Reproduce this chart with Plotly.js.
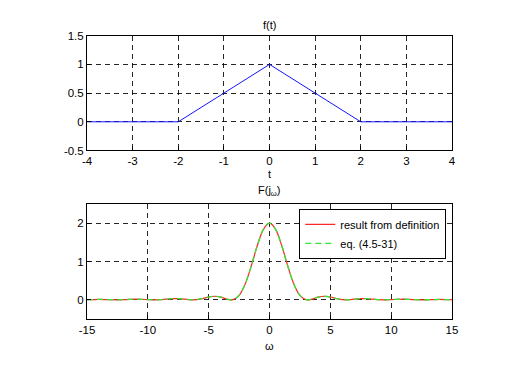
<!DOCTYPE html>
<html>
<head>
<meta charset="utf-8">
<script src="https://cdn.plot.ly/plotly-3.0.1.min.js"></script>
<style>html,body{margin:0;padding:0;background:#fff;}#chart{width:522px;height:377px;}</style>
</head>
<body>
<div id="chart"></div>
<script>
// Top subplot: f(t)
const tVals = [-4, -2, 0, 2, 4];
const fVals = [0, 0, 1, 0, 0];

// Bottom subplot: F(jw)
const omega = [-15,-14.5,-14,-13.5,-13,-12.5,-12,-11.5,-11,-10.5,-10,-9.5,-9,-8.5,-8,-7.5,-7,-6.5,-6,-5.5,-5,-4.5,-4,-3.5,-3,-2.5,-2,-1.5,-1,-0.5,
  0,0.5,1,1.5,2,2.5,3,3.5,4,4.5,5,5.5,6,6.5,7,7.5,8,8.5,9,9.5,10,10.5,11,11.5,12,12.5,13,13.5,14,14.5,15];
const Fdef = [0.004,0.008,0.010,0.007,0.002,0.000,0.004,0.012,0.017,0.014,0.006,0.000,0.004,0.018,0.031,0.031,0.018,0.002,0.004,0.033,0.074,0.094,0.072,0.020,0.004,0.115,0.413,0.884,1.416,1.839,
  2.000,1.839,1.416,0.884,0.413,0.115,0.004,0.020,0.072,0.094,0.074,0.033,0.004,0.002,0.018,0.031,0.031,0.018,0.004,0.000,0.006,0.014,0.017,0.012,0.004,0.000,0.002,0.007,0.010,0.008,0.004];
const Feq = [0.004,0.008,0.010,0.007,0.002,0.000,0.004,0.012,0.017,0.014,0.006,0.000,0.004,0.018,0.031,0.031,0.018,0.002,0.004,0.033,0.074,0.094,0.072,0.020,0.004,0.115,0.413,0.884,1.416,1.839,
  2.000,1.839,1.416,0.884,0.413,0.115,0.004,0.020,0.072,0.094,0.074,0.033,0.004,0.002,0.018,0.031,0.031,0.018,0.004,0.000,0.006,0.014,0.017,0.012,0.004,0.000,0.002,0.007,0.010,0.008,0.004];

const topXTicks = [-4,-3,-2,-1,0,1,2,3,4];
const topYTicks = [-0.5,0,0.5,1,1.5];
const botXTicks = [-15,-10,-5,0,5,10,15];
const botYTicks = [0,1,2];

const FONT = {family: 'Liberation Sans, Arial, sans-serif', size: 11.5, color: '#000'};
const LFONT = {family: 'Liberation Sans, Arial, sans-serif', size: 11, color: '#000'};
const TFONT = {family: 'Liberation Sans, Arial, sans-serif', size: 11, color: '#000'};

function axisBase(extra) {
  return Object.assign({
    showline: true, mirror: true, linecolor: '#000', linewidth: 1,
    showgrid: true, gridcolor: 'rgba(0,0,0,0.85)', gridwidth: 1, griddash: '5px,4px',
    zeroline: false, ticks: 'inside', ticklen: 4, tickcolor: '#000',
    tickfont: FONT, tickmode: 'array', fixedrange: true
  }, extra);
}

const data = [
  {x: tVals, y: fVals, type: 'scatter', mode: 'lines', line: {color: 'rgb(20,20,255)', width: 1}, xaxis: 'x', yaxis: 'y', showlegend: false},
  {x: omega, y: Fdef, type: 'scatter', mode: 'lines', name: 'result from definition', line: {color: 'rgb(255,40,40)', width: 1.2, shape: 'spline'}, xaxis: 'x2', yaxis: 'y2'},
  {x: omega, y: Feq, type: 'scatter', mode: 'lines', name: 'eq. (4.5-31)', line: {color: 'rgb(50,230,50)', width: 1.3, dash: '6px,4px', shape: 'spline'}, xaxis: 'x2', yaxis: 'y2'}
];

const layout = {
  width: 522, height: 377,
  margin: {l: 0, r: 0, t: 0, b: 0},
  paper_bgcolor: '#fff', plot_bgcolor: '#fff',
  font: FONT,
  xaxis: axisBase({domain: [0.1667, 0.8659], range: [-4, 4], tickvals: topXTicks, ticktext: topXTicks.map(String), anchor: 'y'}),
  yaxis: axisBase({domain: [0.6008, 0.9053], range: [-0.5, 1.5], tickvals: topYTicks, ticktext: topYTicks.map(String), anchor: 'x'}),
  xaxis2: axisBase({domain: [0.1667, 0.8659], range: [-15, 15], tickvals: botXTicks, ticktext: botXTicks.map(String), anchor: 'y2'}),
  yaxis2: axisBase({domain: [0.1538, 0.4589], range: [-0.5, 2.5], tickvals: botYTicks, ticktext: botYTicks.map(String), anchor: 'x2'}),
  showlegend: true,
  legend: {
    x: 0.855, y: 0.446, xanchor: 'right', yanchor: 'top',
    bgcolor: '#fff', bordercolor: '#000', borderwidth: 1,
    font: LFONT, tracegroupgap: 0, itemwidth: 30
  },
  annotations: [
    {text: 'f(t)', x: 0.5163, y: 1 - 25/377, xref: 'paper', yref: 'paper', showarrow: false, xanchor: 'center', yanchor: 'middle', font: TFONT},
    {text: 't', x: 0.5163, y: 1 - 174/377, xref: 'paper', yref: 'paper', showarrow: false, xanchor: 'center', yanchor: 'middle', font: TFONT},
    {text: 'F(j<sub>ω</sub>)', x: 0.5163, y: 1 - 191/377, xref: 'paper', yref: 'paper', showarrow: false, xanchor: 'center', yanchor: 'middle', font: TFONT},
    {text: 'ω', x: 0.5163, y: 1 - 346/377, xref: 'paper', yref: 'paper', showarrow: false, xanchor: 'center', yanchor: 'middle', font: TFONT}
  ]
};

Plotly.newPlot('chart', data, layout, {displayModeBar: false, staticPlot: true});
</script>
</body>
</html>
